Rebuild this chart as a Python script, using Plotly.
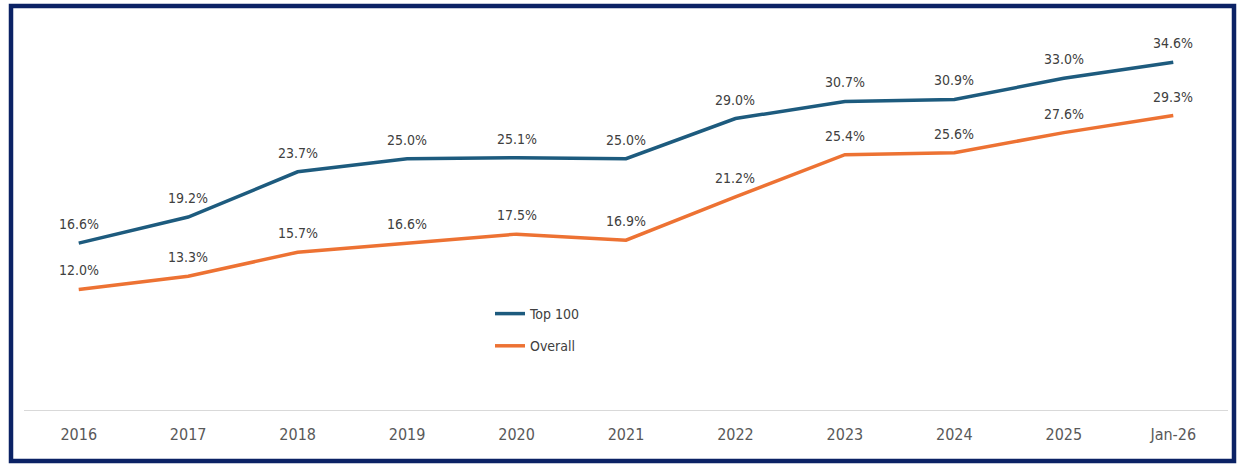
import plotly.graph_objects as go

categories = ["2016", "2017", "2018", "2019", "2020", "2021", "2022", "2023", "2024", "2025", "Jan-26"]
top100 = [16.6, 19.2, 23.7, 25.0, 25.1, 25.0, 29.0, 30.7, 30.9, 33.0, 34.6]
overall = [12.0, 13.3, 15.7, 16.6, 17.5, 16.9, 21.2, 25.4, 25.6, 27.6, 29.3]

series = [("Top 100", top100, "#1D5B7E"), ("Overall", overall, "#ED7233")]

FONT = "DejaVu Sans Condensed, DejaVu Sans, sans-serif"

fig = go.Figure()
annotations = []
for name, vals, color in series:
    fig.add_trace(go.Scatter(
        x=categories, y=vals, mode="lines", name=name,
        line=dict(color=color, width=3.5), legendgroup=name,
    ))
    for i, v in enumerate(vals):
        annotations.append(dict(
            x=i, y=v, text=f"{v:.1f}%", showarrow=False, yshift=19,
            font=dict(family=FONT, size=14, color="#404040"),
        ))

W, H = 1243, 468
L, R, T, B = 24, 15, 8, 58
pw, ph = W - L - R, H - T - B

def px(x):
    return (x - L) / pw

def py(y):
    return (H - B - y) / ph

fig.update_layout(
    width=W, height=H,
    margin=dict(l=L, r=R, t=T, b=B),
    paper_bgcolor="white", plot_bgcolor="white",
    showlegend=True,
    legend=dict(
        x=px(490), y=py(298), xanchor="left", yanchor="top",
        font=dict(family=FONT, size=14, color="#404040"),
        bgcolor="rgba(0,0,0,0)", tracegroupgap=11,
    ),
    xaxis=dict(
        type="category", range=[-0.5, len(categories) - 0.5],
        showgrid=False, zeroline=False,
        showline=True, linecolor="#D9D9D9", linewidth=1.2,
        ticks="", tickfont=dict(family=FONT, size=16, color="#595959"),
        ticklabelstandoff=10,
    ),
    yaxis=dict(range=[0, 40], visible=False, showgrid=False),
    annotations=annotations,
    shapes=[dict(
        type="rect", xref="paper", yref="paper",
        x0=px(11), x1=px(1234), y0=py(461), y1=py(6),
        line=dict(color="#0B2265", width=4.5), fillcolor="rgba(0,0,0,0)",
        layer="above",
    )],
)

fig.write_html("out.html", config={"displayModeBar": False},
               post_script="document.body.style.margin='0';")
